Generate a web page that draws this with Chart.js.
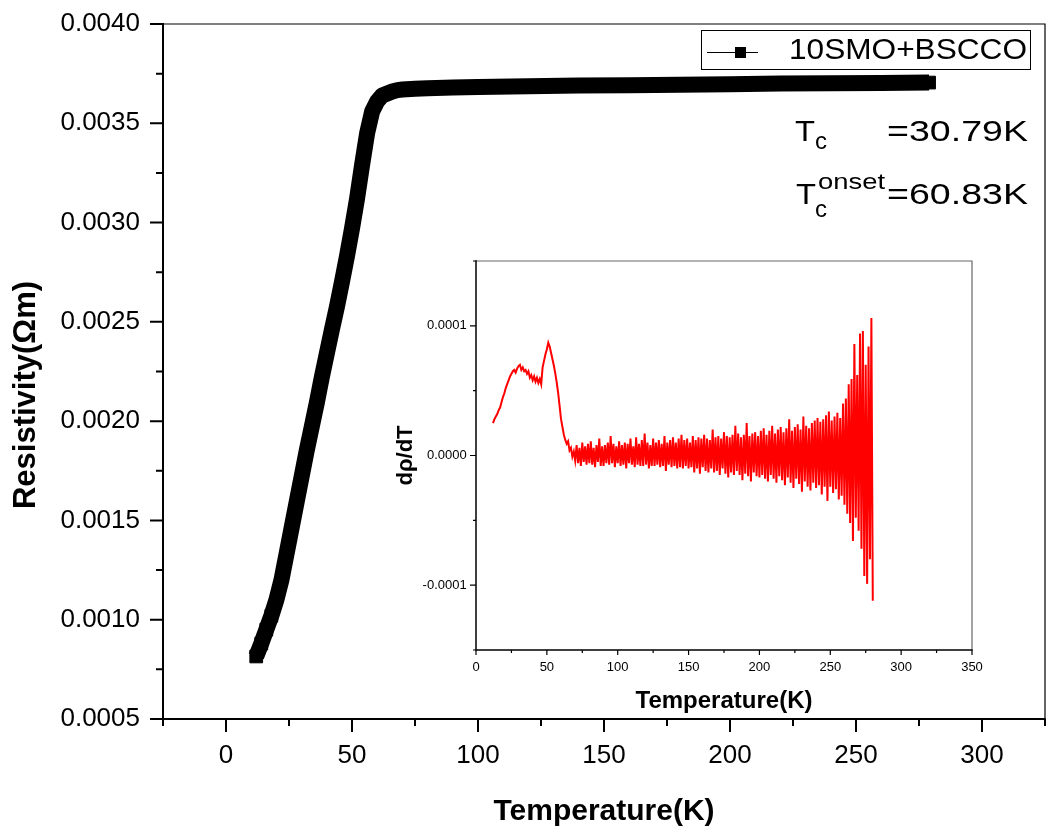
<!DOCTYPE html>
<html>
<head>
<meta charset="utf-8">
<script src="https://cdn.jsdelivr.net/npm/chart.js@4.4.1/dist/chart.umd.min.js"></script>
<style>
  html, body { margin: 0; padding: 0; background: #fff; }
  #wrap { position: relative; width: 1049px; height: 831px; }
  #main { position: absolute; left: 0; top: 0; }
  #inset { position: absolute; left: 380px; top: 240px; }
</style>
</head>
<body>
<div id="wrap">
  <canvas id="main" width="1049" height="831"></canvas>
  <canvas id="inset" width="620" height="480"></canvas>
</div>
<script>
// resistivity curve (K, ohm m)
const temps = [12, 14, 16, 18, 20, 22, 24, 26, 28, 30, 32, 34, 36, 38, 40, 42, 44, 46, 48, 50,
    52, 54, 56, 58, 60, 62, 64, 66, 68, 70, 75, 80, 90, 100, 120, 140, 160, 180, 200, 220, 240, 260, 279];
const resistivity = [0.000815, 0.00088, 0.00095, 0.00102, 0.00110, 0.00120, 0.00133, 0.00146, 0.00159, 0.00172,
    0.00185, 0.00197, 0.00209, 0.00222, 0.00234, 0.00246, 0.002575, 0.00270, 0.00283, 0.00297,
    0.00312, 0.00329, 0.00345, 0.00356, 0.00361, 0.00364, 0.00365, 0.00366, 0.003667, 0.00367,
    0.003674, 0.003677, 0.00368, 0.003683, 0.003687, 0.00369, 0.003692, 0.003694, 0.003697, 0.0037,
    0.003702, 0.003703, 0.003705];

// inset: d(rho)/dT, values in units of 1e-6
const insetTemps = [12, 13, 14, 15, 16, 17, 18, 19, 20, 21,
    22, 23, 24, 25, 26, 27, 28, 29, 30, 31,
    32, 33, 34, 35, 36, 37, 38, 39, 40, 41,
    42, 43, 44, 45, 46, 47, 48, 49, 50, 51,
    52, 53, 54, 55, 56, 57, 58, 59, 60, 61,
    62, 63, 64, 65, 66, 67, 68, 69,
    70, 71, 72, 73, 74, 75, 76, 77, 78, 79,
    80, 81, 82, 83, 84, 85, 86, 87, 88, 89,
    90, 91, 92, 93, 94, 95, 96, 97, 98, 99,
    100, 101, 102, 103, 104, 105, 106, 107, 108, 109,
    110, 111, 112, 113, 114, 115, 116, 117, 118, 119,
    120, 121, 122, 123, 124, 125, 126, 127, 128, 129,
    130, 131, 132, 133, 134, 135, 136, 137, 138, 139,
    140, 141, 142, 143, 144, 145, 146, 147, 148, 149,
    150, 151, 152, 153, 154, 155, 156, 157, 158, 159,
    160, 161, 162, 163, 164, 165, 166, 167, 168, 169,
    170, 171, 172, 173, 174, 175, 176, 177, 178, 179,
    180, 181, 182, 183, 184, 185, 186, 187, 188, 189,
    190, 191, 192, 193, 194, 195, 196, 197, 198, 199,
    200, 201, 202, 203, 204, 205, 206, 207, 208, 209,
    210, 211, 212, 213, 214, 215, 216, 217, 218, 219,
    220, 221, 222, 223, 224, 225, 226, 227, 228, 229,
    230, 231, 232, 233, 234, 235, 236, 237, 238, 239,
    240, 241, 242, 243, 244, 245, 246, 247, 248, 249,
    250, 251, 252, 253, 254, 255, 256, 257, 258, 259,
    260, 261, 262, 263, 264, 265, 266, 267, 268, 269,
    270, 271, 272, 273, 274, 275, 276, 277, 278, 279,
    280];
const dRdT = [25, 28, 30, 32, 35, 37, 41, 45, 48, 52,
    55, 58, 61, 63, 65, 66, 64, 67, 69, 70,
    66, 68, 65, 66, 63, 65, 60, 62, 58, 61,
    57, 60, 56, 59, 55, 68, 73, 78, 82, 87,
    84, 79, 74, 69, 63, 56, 48, 38, 28, 22,
    16, 12, 9, 11, 4, 6, -1, 3,
    -4, 8, -6, 6, -8, 10, -5, 7, -7, 9,
    -6, 11, -7, 6, -9, 8, -5, 13, -8, 7,
    -8, 8, -6, 10, -7, 15, -6, 9, -9, 7,
    -6, 11, -8, 8, -7, 10, -10, 9, -6, 13,
    -7, 7, -9, 14, -7, 9, -8, 12, -8, 17,
    -7, 10, -10, 8, -8, 13, -8, 10, -7, 12,
    -9, 9, -8, 15, -12, 10, -7, 12, -9, 14,
    -8, 10, -10, 13, -9, 16, -10, 12, -8, 13,
    -10, 10, -9, 15, -13, 12, -10, 14, -14, 13,
    -9, 16, -12, 13, -13, 12, -10, 20, -13, 14,
    -12, 15, -15, 13, -10, 18, -14, 15, -17, 14,
    -13, 16, -15, 23, -12, 17, -15, 14, -19, 16,
    -14, 25, -16, 15, -20, 17, -13, 18, -16, 15,
    -17, 19, -15, 21, -18, 16, -20, 19, -15, 23,
    -18, 17, -21, 20, -16, 22, -19, 18, -23, 21,
    -17, 28, -21, 19, -25, 22, -18, 24, -22, 20,
    -28, 30, -20, 23, -24, 21, -27, 25, -21, 27,
    -25, 29, -23, 26, -30, 28, -24, 31, -35, 34,
    -24, 27, -29, 30, -26, 33, -34, 29, -31, 40,
    -38, 44, -45, 55, -52, 59, -66, 86, -48, 62,
    -58, 94, -72, 96, -93, 70, -99, 84, -80, 106,
    -112];

const mainXTicks = [0, 50, 100, 150, 200, 250, 300];
const mainXMinor = [-25, 25, 75, 125, 175, 225, 275, 325];
const mainYTicks = [0.0005, 0.0010, 0.0015, 0.0020, 0.0025, 0.0030, 0.0035, 0.0040];
const mainYMinor = [0.00075, 0.00125, 0.00175, 0.00225, 0.00275, 0.00325, 0.00375];
const insetXTicks = [0, 50, 100, 150, 200, 250, 300, 350];
const insetXMinor = [25, 75, 125, 175, 225, 275, 325];
const insetYTicks = [-0.0001, 0, 0.0001];
const insetYMinor = [-0.00015, -0.00005, 0.00005, 0.00015];

const FONT = 'Arial, "Liberation Sans", Helvetica, sans-serif';

// keep the plot area exactly where the layout padding puts it
const fixSize = (prop, size) => (s) => {
    s[prop] = size;
    s.paddingTop = 0;
    s.paddingBottom = 0;
    s.paddingLeft = 0;
    s.paddingRight = 0;
};

// box round the plot area plus major / minor tick marks
const axisFrame = (cfg) => ({
    id: 'axisFrame',
    afterDraw(chart) {
        const { ctx, chartArea: a, scales: { x, y } } = chart;
        ctx.save();
        ctx.strokeStyle = cfg.edgeColor;
        ctx.lineWidth = cfg.edgeWidth;
        ctx.beginPath();
        ctx.moveTo(a.left, a.top);
        ctx.lineTo(a.right, a.top);
        ctx.lineTo(a.right, a.bottom);
        ctx.stroke();

        ctx.strokeStyle = '#000';
        ctx.lineWidth = cfg.axisWidth;
        ctx.beginPath();
        ctx.moveTo(a.left, a.top - cfg.axisWidth / 2);
        ctx.lineTo(a.left, a.bottom);
        ctx.lineTo(a.right + cfg.edgeWidth / 2, a.bottom);
        ctx.stroke();

        ctx.lineWidth = cfg.tickWidth;
        ctx.beginPath();
        const xMark = (vals, len) => vals.forEach(v => {
            const px = x.getPixelForValue(v);
            ctx.moveTo(px, a.bottom);
            ctx.lineTo(px, a.bottom + len);
        });
        const yMark = (vals, len) => vals.forEach(v => {
            const py = y.getPixelForValue(v);
            ctx.moveTo(a.left, py);
            ctx.lineTo(a.left - len, py);
        });
        xMark(cfg.xMajor, cfg.majorLen);
        xMark(cfg.xMinor, cfg.minorLen);
        yMark(cfg.yMajor, cfg.majorLenY || cfg.majorLen);
        yMark(cfg.yMinor, cfg.minorLen);
        ctx.stroke();
        ctx.restore();
    }
});

// text squeezed/stretched to the width it has in the picture
function fitText(ctx, text, x, baseline, width, font) {
    ctx.font = font;
    const w = ctx.measureText(text).width;
    ctx.save();
    ctx.translate(x, baseline);
    ctx.scale(width / w, 1);
    ctx.textAlign = 'left';
    ctx.textBaseline = 'alphabetic';
    ctx.fillText(text, 0, 0);
    ctx.restore();
}

const mainNotes = {
    id: 'mainNotes',
    afterDraw(chart) {
        const ctx = chart.ctx;
        ctx.save();
        ctx.fillStyle = '#000';

        // y axis title
        ctx.save();
        ctx.translate(26, 395);
        ctx.rotate(-Math.PI / 2);
        ctx.font = 'bold 31px ' + FONT;
        ctx.textAlign = 'center';
        ctx.textBaseline = 'middle';
        ctx.fillText('Resistivity(Ωm)', 0, 0);
        ctx.restore();

        // legend
        ctx.fillStyle = '#fff';
        ctx.fillRect(701, 30, 329, 39);
        ctx.strokeStyle = '#000';
        ctx.lineWidth = 1;
        ctx.strokeRect(701.5, 30.5, 329, 39);
        ctx.beginPath();
        ctx.moveTo(707, 52.5);
        ctx.lineTo(758, 52.5);
        ctx.stroke();
        ctx.fillStyle = '#000';
        ctx.fillRect(735, 47, 11, 11);
        fitText(ctx, '10SMO+BSCCO', 789, 58.5, 238, '30px ' + FONT);

        // critical temperatures
        fitText(ctx, 'T', 795, 141, 20, '29px ' + FONT);
        fitText(ctx, 'c', 815, 148.5, 12, '23px ' + FONT);
        fitText(ctx, '=30.79K', 887, 141, 141, '30px ' + FONT);
        fitText(ctx, 'T', 796, 203.5, 20, '29px ' + FONT);
        fitText(ctx, 'c', 815, 216.5, 12, '23px ' + FONT);
        fitText(ctx, 'onset', 818, 188.5, 67, '22px ' + FONT);
        fitText(ctx, '=60.83K', 887, 203.5, 141, '30px ' + FONT);
        ctx.restore();
    }
};

// squares only show at the two ends, the dense middle reads as one thick band
const endSquares = (ctx) => {
    const i = ctx.dataIndex;
    return (temps[i] <= 18 || i === temps.length - 1) ? 9 : 0;
};

new Chart(document.getElementById('main').getContext('2d'), {
    type: 'line',
    data: {
        datasets: [{
            label: '10SMO+BSCCO',
            data: temps.map((t, i) => ({ x: t, y: resistivity[i] })),
            borderColor: '#000',
            backgroundColor: '#000',
            borderWidth: 16,
            borderJoinStyle: 'round',
            pointStyle: 'rect',
            pointRadius: endSquares,
            pointBorderWidth: 1,
            pointBorderColor: '#000',
            pointBackgroundColor: '#000',
            tension: 0
        }]
    },
    options: {
        responsive: false,
        animation: false,
        devicePixelRatio: 1,
        layout: { autoPadding: false, padding: { top: 24, right: 4, left: 0, bottom: 0 } },
        plugins: { legend: { display: false }, tooltip: { enabled: false } },
        scales: {
            x: {
                type: 'linear',
                min: -25,
                max: 325,
                afterBuildTicks: (s) => { s.ticks = mainXTicks.map(v => ({ value: v })); },
                afterFit: fixSize('height', 112),
                grid: { display: false, drawTicks: false },
                border: { display: false },
                ticks: {
                    padding: 21,
                    color: '#000',
                    font: { family: FONT, size: 26 },
                    maxRotation: 0,
                    callback: (v) => String(v)
                },
                title: {
                    display: true,
                    text: 'Temperature(K)',
                    color: '#000',
                    font: { family: FONT, size: 30, weight: 'bold' },
                    padding: { top: 0, bottom: 1.4 }
                }
            },
            y: {
                type: 'linear',
                min: 0.0005,
                max: 0.0040,
                afterBuildTicks: (s) => { s.ticks = mainYTicks.map(v => ({ value: v })); },
                afterFit: fixSize('width', 163),
                grid: { display: false, drawTicks: false },
                border: { display: false },
                ticks: {
                    padding: 23,
                    color: '#000',
                    font: { family: FONT, size: 26 },
                    callback: (v) => Number(v).toFixed(4)
                }
            }
        }
    },
    plugins: [axisFrame({
        edgeColor: '#000', edgeWidth: 1.2, axisWidth: 2, tickWidth: 2,
        majorLen: 13, minorLen: 7,
        xMajor: mainXTicks, xMinor: mainXMinor, yMajor: mainYTicks, yMinor: mainYMinor
    }), mainNotes]
});

new Chart(document.getElementById('inset').getContext('2d'), {
    type: 'line',
    data: {
        datasets: [{
            label: 'dρ/dT',
            data: insetTemps.map((t, i) => ({ x: t, y: dRdT[i] * 1e-6 })),
            borderColor: '#ff0000',
            borderWidth: 2,
            pointRadius: 0,
            tension: 0
        }]
    },
    options: {
        responsive: false,
        animation: false,
        devicePixelRatio: 1,
        layout: { autoPadding: false, padding: { top: 21, right: 28, left: 0, bottom: 0 } },
        plugins: { legend: { display: false }, tooltip: { enabled: false } },
        scales: {
            x: {
                type: 'linear',
                min: 0,
                max: 350,
                afterBuildTicks: (s) => { s.ticks = insetXTicks.map(v => ({ value: v })); },
                afterFit: fixSize('height', 70),
                grid: { display: false, drawTicks: false },
                border: { display: false },
                ticks: {
                    padding: 9.7,
                    color: '#000',
                    font: { family: FONT, size: 13 },
                    maxRotation: 0,
                    callback: (v) => String(v)
                },
                title: {
                    display: true,
                    text: 'Temperature(K)',
                    color: '#000',
                    font: { family: FONT, size: 24, weight: 'bold' },
                    padding: { top: 0, bottom: 4 }
                }
            },
            y: {
                type: 'linear',
                min: -0.00015,
                max: 0.00015,
                afterBuildTicks: (s) => { s.ticks = insetYTicks.map(v => ({ value: v })); },
                afterFit: fixSize('width', 96),
                grid: { display: false, drawTicks: false },
                border: { display: false },
                ticks: {
                    padding: 9.3,
                    color: '#000',
                    font: { family: FONT, size: 13 },
                    callback: (v) => Number(v).toFixed(4)
                },
                title: {
                    display: true,
                    text: 'dρ/dT',
                    color: '#000',
                    font: { family: FONT, size: 22, weight: 'bold' },
                    padding: { top: 13, bottom: 0 }
                }
            }
        }
    },
    plugins: [axisFrame({
        edgeColor: '#666', edgeWidth: 1.2, axisWidth: 1.5, tickWidth: 1.2,
        majorLen: 5, majorLenY: 6, minorLen: 3,
        xMajor: insetXTicks, xMinor: insetXMinor, yMajor: insetYTicks, yMinor: insetYMinor
    })]
});
</script>
</body>
</html>
